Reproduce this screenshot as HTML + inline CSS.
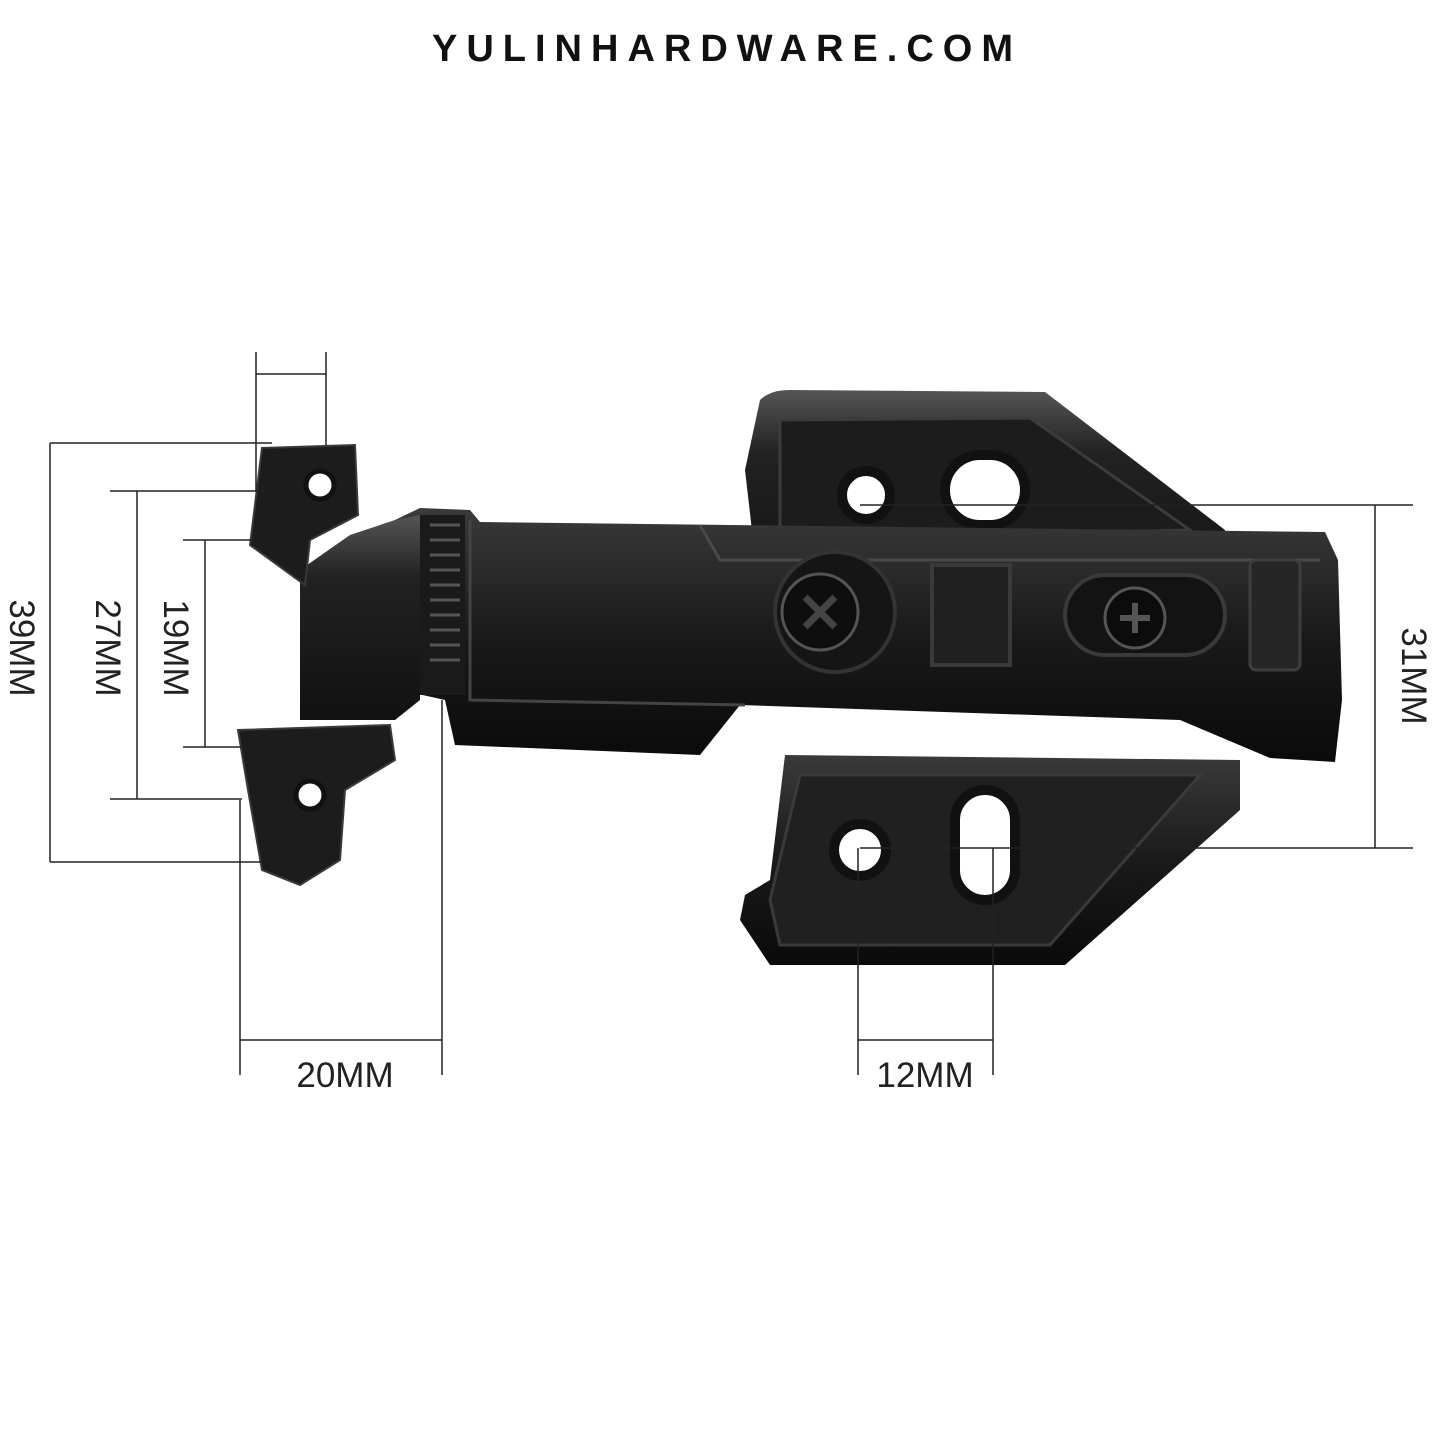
<!DOCTYPE html>
<html><head><meta charset="utf-8"><style>
html,body{margin:0;padding:0;background:#fff;}
body{width:1445px;height:1445px;overflow:hidden;position:relative;}
.t{position:absolute;left:0;width:1445px;top:28px;text-align:center;font:bold 38px "Liberation Sans",sans-serif;letter-spacing:9px;color:#111;padding-left:9px;box-sizing:border-box;}
</style></head><body>
<div class="t">YULINHARDWARE.COM</div>
<svg width="1445" height="1445" style="position:absolute;left:0;top:0">
<defs>
<linearGradient id="g1" x1="0" y1="0" x2="0" y2="1"><stop offset="0" stop-color="#3a3a3a"/><stop offset="0.5" stop-color="#1a1a1a"/><stop offset="1" stop-color="#0a0a0a"/></linearGradient>
<linearGradient id="g2" x1="0" y1="0" x2="0" y2="1"><stop offset="0" stop-color="#555"/><stop offset="0.3" stop-color="#222"/><stop offset="1" stop-color="#111"/></linearGradient>
</defs>
<path d="M760 400 Q770 390 790 390 L1045 392 L1225 530 L1230 600 L760 600 L745 470 Z" fill="url(#g2)"/>
<path d="M780 420 L1030 418 L1190 530 L780 540 Z" fill="#1c1c1c" stroke="#3c3c3c" stroke-width="3"/>
<path d="M785 755 L1240 760 L1240 810 L1065 965 L770 965 L740 920 L745 895 L770 880 Z" fill="url(#g1)"/>
<path d="M800 775 L1200 775 L1050 945 L780 945 L770 900 Z" fill="#202020" stroke="#3a3a3a" stroke-width="3"/>
<circle cx="866" cy="495" r="24" fill="#fff" stroke="#111" stroke-width="10"/>
<rect x="945" y="455" width="80" height="70" rx="35" fill="#fff" stroke="#111" stroke-width="10"/>
<circle cx="860" cy="850" r="26" fill="#fff" stroke="#111" stroke-width="10"/>
<rect x="955" y="790" width="60" height="110" rx="30" fill="#fff" stroke="#111" stroke-width="10"/>
<path d="M395 520 L420 508 L470 510 L480 522 L1325 532 L1338 560 L1342 700 L1335 762 L1270 758 L1180 720 L740 705 L700 755 L455 745 L445 700 L400 690 Z" fill="url(#g1)"/>
<path d="M470 520 L470 700 L745 705" fill="none" stroke="#444" stroke-width="3"/>
<path d="M700 525 L720 560 L1320 560" fill="none" stroke="#4a4a4a" stroke-width="3"/>
<rect x="1250" y="560" width="50" height="110" rx="6" fill="#262626" stroke="#3e3e3e" stroke-width="3"/>
<circle cx="835" cy="612" r="60" fill="#151515" stroke="#333" stroke-width="4"/>
<circle cx="820" cy="612" r="38" fill="#0e0e0e" stroke="#555" stroke-width="3"/>
<path d="M805 597 L835 627 M835 597 L805 627" stroke="#444" stroke-width="7"/>
<rect x="932" y="565" width="78" height="100" fill="#202020" stroke="#3a3a3a" stroke-width="4"/>
<rect x="1065" y="575" width="160" height="80" rx="40" fill="#131313" stroke="#3a3a3a" stroke-width="4"/>
<circle cx="1135" cy="618" r="30" fill="#0c0c0c" stroke="#555" stroke-width="3"/>
<path d="M1120 618 L1150 618 M1135 603 L1135 633" stroke="#555" stroke-width="6"/>
<rect x="420" y="515" width="45" height="180" fill="#1a1a1a"/>
<path d="M430 525 h30 M430 540 h30 M430 555 h30 M430 570 h30 M430 585 h30 M430 600 h30 M430 615 h30 M430 630 h30 M430 645 h30 M430 660 h30" stroke="#555" stroke-width="3"/>
<path d="M300 570 L350 535 L395 520 L420 515 L420 700 L395 720 L300 720 Z" fill="url(#g2)"/>
<path d="M262 448 L355 445 L358 515 L310 540 L305 585 L250 545 Z" fill="#1c1c1c" stroke="#3a3a3a" stroke-width="2"/>
<circle cx="320" cy="485" r="14" fill="#fff" stroke="#111" stroke-width="5"/>
<path d="M238 730 L390 725 L395 760 L345 790 L340 860 L300 885 L262 870 L248 790 Z" fill="#1c1c1c" stroke="#3a3a3a" stroke-width="2"/>
<circle cx="310" cy="795" r="14" fill="#fff" stroke="#111" stroke-width="5"/>
<g stroke="#222" stroke-width="1.5" fill="none">
<path d="M50 443 H272 M50 862 H262 M50 443 V862"/>
<path d="M110 491 H266 M110 799 H242 M137 491 V799"/>
<path d="M183 540 H252 M183 747 H242 M205 540 V747"/>
<path d="M256 352 V492 M326 352 V445 M256 374 H326"/>
<path d="M860 505 H1413 M860 848 H1413 M1375 505 V848"/>
<path d="M240 800 V1075 M442 700 V1075 M240 1040 H442"/>
<path d="M858 848 V1075 M993 848 V1075 M858 1040 H993"/>
</g>
<g font-family="Liberation Sans,sans-serif" font-size="35" fill="#222" text-anchor="middle">
<text transform="translate(10,648) rotate(90)">39MM</text>
<text transform="translate(96,648) rotate(90)">27MM</text>
<text transform="translate(164,648) rotate(90)">19MM</text>
<text transform="translate(1402,676) rotate(90)">31MM</text>
<text x="345" y="1087">20MM</text>
<text x="925" y="1087">12MM</text>
</g>
</svg>
</body></html>
